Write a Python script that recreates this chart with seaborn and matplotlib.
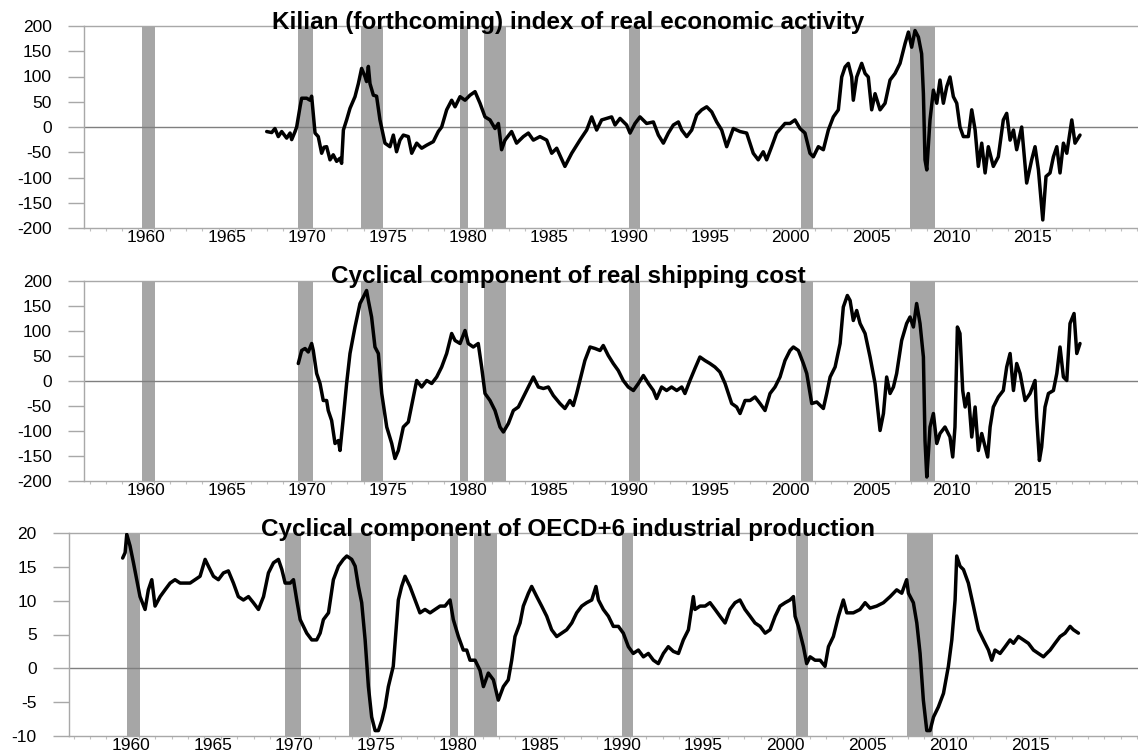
import matplotlib
matplotlib.use("Agg")
import matplotlib.pyplot as plt
import seaborn as sns
import pandas as pd
import numpy as np

# ---------------- data ----------------
kilian_year = [1967.99, 1968.30, 1968.50, 1968.71, 1968.92, 1969.23, 1969.44, 1969.54, 1969.75,
               1969.85, 1970.06, 1970.16, 1970.47, 1970.68, 1970.78, 1970.88, 1970.99, 1971.19,
               1971.40, 1971.55, 1971.71, 1971.92, 1972.12, 1972.33, 1972.54, 1972.64, 1972.75,
               1972.95, 1973.16, 1973.47, 1973.68, 1973.88, 1974.09, 1974.19, 1974.30, 1974.40,
               1974.61, 1974.81, 1975.02, 1975.33, 1975.64, 1975.85, 1976.05, 1976.26, 1976.47,
               1976.78, 1976.99, 1977.30, 1977.61, 1977.92, 1978.33, 1978.64, 1978.85, 1979.16,
               1979.47, 1979.68, 1979.99, 1980.30, 1980.61, 1980.92, 1981.23, 1981.54, 1981.85,
               1982.16, 1982.37, 1982.57, 1982.78, 1983.19, 1983.50, 1983.92, 1984.23, 1984.54,
               1984.95, 1985.37, 1985.68, 1985.99, 1986.50, 1986.92, 1987.43, 1987.85, 1988.16,
               1988.47, 1988.78, 1989.09, 1989.40, 1989.61, 1989.92, 1990.33, 1990.54, 1990.85,
               1991.16, 1991.57, 1991.99, 1992.30, 1992.61, 1992.92, 1993.23, 1993.54, 1993.75,
               1994.06, 1994.37, 1994.68, 1994.99, 1995.30, 1995.61, 1995.92, 1996.23, 1996.54,
               1996.95, 1997.37, 1997.78, 1998.19, 1998.50, 1998.81, 1999.02, 1999.33, 1999.64,
               2000.16, 2000.47, 2000.78, 2001.09, 2001.40, 2001.71, 2001.92, 2002.23, 2002.54,
               2002.85, 2003.16, 2003.47, 2003.68, 2003.89, 2004.09, 2004.30, 2004.40, 2004.61,
               2004.92, 2005.13, 2005.33, 2005.54, 2005.75, 2006.06, 2006.37, 2006.68, 2006.99,
               2007.30, 2007.61, 2007.82, 2008.02, 2008.23, 2008.44, 2008.64, 2008.75, 2008.85,
               2008.96, 2009.16, 2009.37, 2009.58, 2009.78, 2009.99, 2010.20, 2010.40, 2010.61,
               2010.82, 2011.02, 2011.23, 2011.54, 2011.75, 2011.96, 2012.16, 2012.37, 2012.58,
               2012.78, 2013.09, 2013.40, 2013.71, 2013.92, 2014.13, 2014.34, 2014.54, 2014.85,
               2015.16, 2015.47, 2015.68, 2015.89, 2016.16, 2016.36, 2016.61, 2016.82, 2017.03,
               2017.23, 2017.44, 2017.65, 2017.96, 2018.16, 2018.47]
kilian_value = [-9, -11, -3, -19, -9, -22, -12, -25, -9,
                0, 40, 57, 57, 53, 61, 27, -12, -19,
                -52, -40, -39, -65, -55, -68, -62, -72, -6,
                14, 37, 60, 86, 116, 100, 90, 120, 86,
                63, 61, 14, -32, -39, -16, -49, -26, -16,
                -19, -52, -32, -42, -36, -29, -9, 0, 34,
                53, 40, 60, 53, 63, 70, 47, 20, 14,
                -3, 7, -45, -26, -9, -32, -19, -12, -26,
                -19, -26, -52, -42, -78, -52, -26, -6, 20,
                -6, 14, 17, 20, 4, 17, 4, -12, 7,
                20, 7, 10, -16, -32, -12, 4, 10, -6,
                -19, -6, 24, 34, 40, 30, 10, -6, -39,
                -3, -9, -12, -52, -65, -49, -65, -39, -12,
                7, 7, 14, -3, -12, -52, -59, -39, -45,
                -6, 20, 34, 99, 119, 126, 99, 53, 99,
                126, 106, 99, 34, 66, 34, 47, 93, 106,
                126, 165, 188, 158, 191, 178, 145, 66, -65,
                -85, 14, 73, 47, 93, 47, 80, 99, 60,
                47, 0, -19, -19, 34, -6, -78, -32, -91,
                -39, -78, -59, 14, 27, -26, -6, -45, 0,
                -111, -65, -39, -85, -184, -98, -91, -59, -39,
                -91, -32, -52, 14, -32, -16]

ship_year = [1969.95, 1970.16, 1970.37, 1970.57, 1970.78, 1970.88, 1971.09, 1971.30, 1971.50,
             1971.71, 1971.81, 1972.02, 1972.23, 1972.44, 1972.54, 1972.75, 1972.95, 1973.16,
             1973.47, 1973.78, 1973.99, 1974.19, 1974.30, 1974.50, 1974.71, 1974.92, 1975.13,
             1975.44, 1975.75, 1975.95, 1976.16, 1976.47, 1976.78, 1977.09, 1977.30, 1977.61,
             1977.92, 1978.23, 1978.54, 1978.85, 1979.16, 1979.47, 1979.68, 1979.99, 1980.30,
             1980.50, 1980.81, 1981.12, 1981.33, 1981.54, 1981.85, 1982.16, 1982.47, 1982.68,
             1982.99, 1983.30, 1983.61, 1983.92, 1984.23, 1984.54, 1984.85, 1985.16, 1985.47,
             1985.78, 1986.19, 1986.50, 1986.81, 1987.02, 1987.23, 1987.43, 1987.74, 1988.06,
             1988.37, 1988.68, 1988.88, 1989.19, 1989.50, 1989.81, 1990.12, 1990.43, 1990.75,
             1991.06, 1991.37, 1991.68, 1991.99, 1992.19, 1992.50, 1992.81, 1993.12, 1993.44,
             1993.75, 1993.95, 1994.26, 1994.57, 1994.88, 1995.19, 1995.50, 1995.81, 1996.12,
             1996.44, 1996.85, 1997.16, 1997.37, 1997.68, 1997.99, 1998.30, 1998.61, 1998.92,
             1999.23, 1999.54, 1999.85, 2000.16, 2000.47, 2000.68, 2000.99, 2001.30, 2001.51,
             2001.82, 2002.13, 2002.54, 2002.75, 2002.96, 2003.27, 2003.58, 2003.78, 2004.03,
             2004.20, 2004.40, 2004.61, 2004.82, 2005.13, 2005.44, 2005.75, 2006.06, 2006.27,
             2006.47, 2006.68, 2006.89, 2007.09, 2007.40, 2007.71, 2007.92, 2008.13, 2008.33,
             2008.54, 2008.75, 2008.85, 2008.96, 2009.06, 2009.16, 2009.37, 2009.58, 2009.78,
             2010.09, 2010.40, 2010.57, 2010.71, 2010.86, 2011.02, 2011.19, 2011.34, 2011.54,
             2011.75, 2011.96, 2012.16, 2012.37, 2012.58, 2012.74, 2012.89, 2013.09, 2013.40,
             2013.71, 2013.92, 2014.13, 2014.34, 2014.54, 2014.75, 2015.06, 2015.37, 2015.68,
             2015.78, 2015.95, 2016.09, 2016.30, 2016.51, 2016.82, 2017.03, 2017.23, 2017.44,
             2017.65, 2017.85, 2018.10, 2018.27, 2018.47]
ship_value = [35, 61, 65, 58, 75, 61, 15, -5, -39,
              -39, -59, -79, -125, -119, -139, -72, -5, 55,
              108, 155, 168, 181, 161, 128, 68, 55, -25,
              -92, -125, -155, -139, -92, -82, -32, 1, -12,
              1, -5, 8, 28, 55, 95, 81, 75, 101,
              75, 68, 75, 28, -25, -39, -59, -92, -102,
              -85, -59, -52, -32, -12, 8, -12, -15, -12,
              -29, -45, -55, -39, -49, -25, 1, 41, 68,
              65, 61, 71, 51, 35, 21, 1, -12, -19,
              -5, 11, -5, -19, -35, -12, -19, -12, -19,
              -12, -25, 1, 25, 48, 41, 35, 28, 18,
              -5, -45, -52, -65, -39, -39, -32, -45, -59,
              -25, -12, 8, 41, 61, 68, 61, 35, 15,
              -45, -42, -55, -25, 8, 28, 75, 148, 171,
              161, 121, 141, 115, 95, 48, -5, -99, -65,
              8, -25, -12, 15, 81, 115, 128, 108, 155,
              115, 48, -119, -192, -145, -92, -65, -125, -105,
              -92, -112, -152, -92, 108, 95, -19, -52, -25,
              -112, -52, -139, -105, -132, -152, -92, -52, -32,
              -19, 28, 55, -19, 35, 15, -39, -25, 1,
              -72, -159, -132, -52, -25, -19, 15, 68, 8,
              1, 115, 135, 55, 75]

ip_year = [1960.00, 1960.15, 1960.25, 1960.45, 1960.66, 1960.86, 1961.06, 1961.37, 1961.57,
           1961.78, 1961.98, 1962.29, 1962.59, 1962.90, 1963.20, 1963.51, 1963.81, 1964.12,
           1964.43, 1964.73, 1965.04, 1965.24, 1965.55, 1965.85, 1966.16, 1966.46, 1966.77,
           1967.07, 1967.38, 1967.69, 1967.99, 1968.30, 1968.61, 1968.91, 1969.22, 1969.52,
           1969.73, 1969.93, 1970.24, 1970.44, 1970.64, 1970.85, 1971.05, 1971.25, 1971.56,
           1971.86, 1972.07, 1972.27, 1972.58, 1972.88, 1973.19, 1973.49, 1973.70, 1974.00,
           1974.21, 1974.41, 1974.61, 1974.82, 1975.02, 1975.22, 1975.43, 1975.63, 1975.84,
           1976.04, 1976.24, 1976.54, 1976.85, 1977.05, 1977.26, 1977.56, 1977.87, 1978.17,
           1978.48, 1978.79, 1979.09, 1979.40, 1979.70, 1980.01, 1980.21, 1980.52, 1980.82,
           1981.03, 1981.23, 1981.54, 1981.84, 1982.05, 1982.35, 1982.66, 1982.96, 1983.27,
           1983.57, 1983.78, 1983.98, 1984.29, 1984.49, 1984.80, 1985.00, 1985.31, 1985.61,
           1985.92, 1986.22, 1986.53, 1986.83, 1987.14, 1987.45, 1987.75, 1988.06, 1988.36,
           1988.67, 1988.93, 1989.08, 1989.38, 1989.69, 1989.99, 1990.30, 1990.60, 1990.91,
           1991.21, 1991.52, 1991.83, 1992.13, 1992.44, 1992.74, 1993.05, 1993.35, 1993.66,
           1993.97, 1994.27, 1994.58, 1994.88, 1994.98, 1995.29, 1995.60, 1995.90, 1996.21,
           1996.51, 1996.82, 1997.12, 1997.43, 1997.73, 1998.04, 1998.35, 1998.65, 1998.96,
           1999.27, 1999.57, 1999.88, 2000.18, 2000.49, 2000.79, 2001.00, 2001.10, 2001.30,
           2001.61, 2001.81, 2002.02, 2002.32, 2002.63, 2002.93, 2003.14, 2003.44, 2003.75,
           2004.05, 2004.26, 2004.66, 2005.07, 2005.38, 2005.68, 2006.09, 2006.50, 2006.91,
           2007.31, 2007.62, 2007.92, 2008.03, 2008.33, 2008.54, 2008.74, 2008.94, 2009.15,
           2009.35, 2009.56, 2009.86, 2010.17, 2010.47, 2010.68, 2010.88, 2010.98, 2011.18,
           2011.39, 2011.69, 2012.00, 2012.31, 2012.61, 2012.92, 2013.12, 2013.32, 2013.63,
           2013.94, 2014.24, 2014.45, 2014.75, 2015.06, 2015.36, 2015.67, 2015.97, 2016.28,
           2016.48, 2016.69, 2016.99, 2017.30, 2017.60, 2017.91, 2018.11, 2018.42]
ip_value = [16.3, 17.1, 19.8, 18.1, 15.6, 13.1, 10.6, 8.7, 11.6,
            13.1, 9.2, 10.6, 11.6, 12.6, 13.1, 12.6, 12.6, 12.6,
            13.1, 13.6, 16.1, 15.1, 13.6, 13.1, 14.1, 14.4, 12.6,
            10.6, 10.1, 10.6, 9.7, 8.7, 10.6, 14.1, 15.6, 16.1,
            14.6, 12.6, 12.6, 13.1, 10.1, 7.2, 6.2, 5.2, 4.2,
            4.2, 5.2, 7.2, 8.2, 13.1, 15.1, 16.1, 16.6, 16.1,
            15.1, 12.1, 9.7, 4.2, -2.7, -7.2, -9.2, -9.2, -7.7,
            -5.7, -2.7, 0.3, 10.1, 12.1, 13.6, 12.1, 10.1, 8.2,
            8.7, 8.2, 8.7, 9.2, 9.2, 10.1, 7.2, 4.7, 2.7,
            2.7, 1.2, 1.2, -0.3, -2.7, -0.7, -1.7, -4.7, -2.7,
            -1.7, 1.2, 4.7, 6.7, 9.2, 11.1, 12.1, 10.6, 9.2,
            7.7, 5.7, 4.7, 5.2, 5.7, 6.7, 8.2, 9.2, 9.7,
            10.1, 12.1, 10.1, 8.7, 7.7, 6.2, 6.2, 5.2, 3.2,
            2.2, 2.7, 1.7, 2.2, 1.2, 0.7, 2.2, 3.2, 2.5,
            2.2, 4.2, 5.7, 10.6, 8.7, 9.2, 9.2, 9.7, 8.7,
            7.7, 6.7, 8.7, 9.7, 10.1, 8.7, 7.7, 6.7, 6.2,
            5.2, 5.7, 7.7, 9.2, 9.7, 10.1, 10.6, 7.7, 6.2,
            3.2, 0.7, 1.7, 1.2, 1.2, 0.3, 3.2, 4.7, 7.7,
            10.1, 8.2, 8.2, 8.7, 9.7, 8.9, 9.2, 9.7, 10.6,
            11.6, 11.1, 13.1, 11.1, 9.7, 6.7, 2.2, -4.7, -9.2,
            -9.2, -7.2, -5.7, -3.7, 0.3, 4.2, 10.1, 16.6, 15.1,
            14.6, 12.6, 9.2, 5.7, 4.2, 2.7, 1.2, 2.7, 2.2,
            3.2, 4.2, 3.7, 4.7, 4.2, 3.7, 2.7, 2.2, 1.7,
            2.2, 2.7, 3.7, 4.7, 5.2, 6.2, 5.7, 5.2]

# NBER recessions (start, end)
rec_start = [1960.25, 1969.92, 1973.83, 1980.00, 1981.50, 1990.50, 2001.17, 2007.92]
rec_end = [1961.08, 1970.87, 1975.20, 1980.50, 1982.87, 1991.17, 2001.87, 2009.50]

titles = ["Kilian (forthcoming) index of real economic activity",
          "Cyclical component of real shipping cost",
          "Cyclical component of OECD+6 industrial production"]
tick_years = [1960, 1965, 1970, 1975, 1980, 1985, 1990, 1995, 2000, 2005, 2010, 2015]

# ---------------- style ----------------
sns.set_theme(style="white")
plt.rcParams["font.family"] = ["Liberation Sans", "DejaVu Sans"]

W, H = 1138, 753
fig = plt.figure(figsize=(W / 100, H / 100), dpi=100)

def ax_at(left, top, right, bottom):
    return fig.add_axes([left / W, 1 - bottom / H, (right - left) / W, (bottom - top) / H])

panels = [
    dict(box=(84, 26, 1138, 228), years=kilian_year, vals=kilian_value,
         ylim=(-200, 200), yt=np.arange(-200, 201, 50), xlim=(1956.65, 2022.07), title_y=29),
    dict(box=(84, 281, 1138, 481), years=ship_year, vals=ship_value,
         ylim=(-200, 200), yt=np.arange(-200, 201, 50), xlim=(1956.65, 2022.07), title_y=283),
    dict(box=(69, 533, 1138, 736), years=ip_year, vals=ip_value,
         ylim=(-10, 20), yt=np.arange(-10, 21, 5), xlim=(1956.72, 2022.06), title_y=536),
]

spine_col = "#a8a8a8"
for i, p in enumerate(panels):
    ax = ax_at(*p["box"])
    for s, e in zip(rec_start, rec_end):
        ax.axvspan(s, e, color="#a6a6a6", lw=0, zorder=1)
    ax.axhline(0, color="#7f7f7f", lw=1.0, zorder=2)
    df = pd.DataFrame({"year": p["years"], "value": p["vals"]})
    sns.lineplot(data=df, x="year", y="value", ax=ax, color="black", lw=2.5,
                 sort=False, estimator=None, zorder=3)
    ax.set_xlim(*p["xlim"])
    ax.set_ylim(*p["ylim"])
    ax.set_xlabel("")
    ax.set_ylabel("")
    ax.set_yticks(p["yt"])
    ax.set_yticklabels([str(v) for v in p["yt"]])
    ax.set_xticks([y + 0.5 for y in tick_years])
    ax.set_xticklabels([str(y) for y in tick_years])
    ax.set_xticks(np.arange(1957, 2023, 1), minor=True)
    ax.tick_params(axis="y", which="major", length=11.7, width=1.0, color=spine_col,
                   pad=11.5, labelsize=12.5, labelcolor="black", direction="out", left=True)
    ax.tick_params(axis="x", which="major", length=0, pad=1.5, labelsize=12.5,
                   labelcolor="black")
    ax.tick_params(axis="x", which="minor", length=2.5, width=0.8, color="#c0c0c0",
                   direction="out", bottom=True)
    for side in ["top", "bottom", "left"]:
        ax.spines[side].set_visible(True)
        ax.spines[side].set_color(spine_col)
        ax.spines[side].set_linewidth(1.0)
    ax.spines["right"].set_visible(False)
    ax.grid(False)
    ax.set_facecolor("white")
    fig.text(0.4995, 1 - p["title_y"] / H, titles[i], ha="center", va="baseline",
             fontsize=17.5, fontweight="bold", color="black", zorder=10)

fig.savefig("out.png", dpi=100, facecolor="white")
